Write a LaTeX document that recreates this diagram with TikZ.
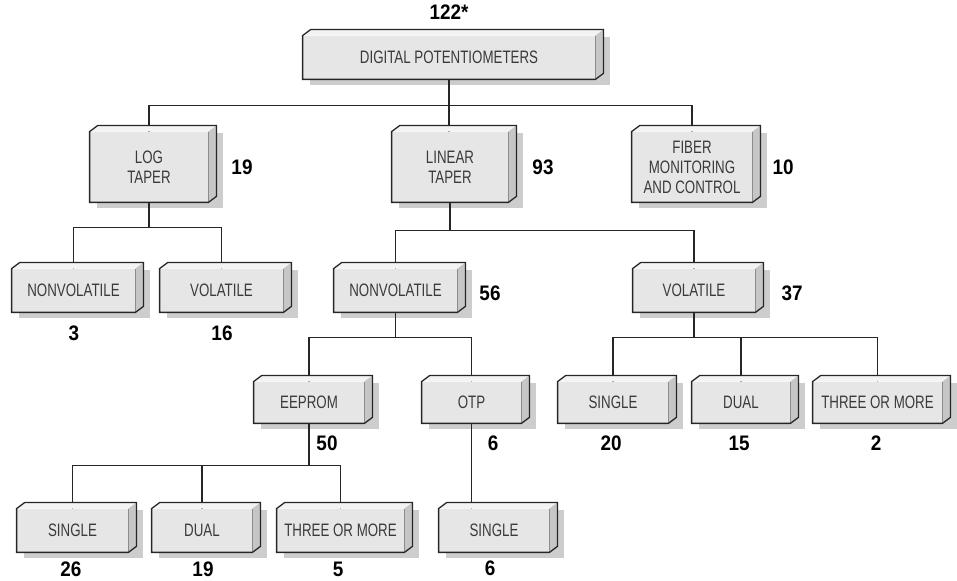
\documentclass[tikz,border=0pt]{standalone}
\usepackage{fontspec}
\setmainfont{Liberation Sans}[FakeStretch=0.74]
\newfontfamily\numfont{Liberation Sans}[FakeStretch=0.9]
\pgfdeclarelayer{background}
\pgfsetlayers{background,main}

\definecolor{frontgray}{HTML}{E6E6E6}
\definecolor{topgray}{HTML}{F3F3F3}
\definecolor{sidegray}{HTML}{C6C6C6}
\definecolor{shadowgray}{HTML}{CDCDCD}
\definecolor{labeltext}{HTML}{3A3A3A}

\tikzset{
    dpbox/.style 2 args={inner sep=0pt, minimum width=#1*0.5pt, minimum height=#2*0.5pt,
        align=center, text=labeltext, font=\fontsize{9}{10}\selectfont},
    num/.style={inner sep=0pt, font=\numfont\bfseries\fontsize{10.5}{12}\selectfont},
    conn/.style={line width=0.6pt, black!85},
    boxline/.style={line width=0.65pt, black!85, line join=miter}
}

\begin{document}
\begin{tikzpicture}[x=0.5pt, y=-0.5pt]

        \useasboundingbox (0,0) rectangle (957,581);

        % boxes (front faces)
        \node[dpbox={292}{43}] (dp) at (449,57.5) {DIGITAL POTENTIOMETERS};

        \node[dpbox={118}{70}] (logt) at (149,167) {LOG\\TAPER};
        \node[dpbox={116}{70}] (lint) at (450,167) {LINEAR\\TAPER};
        \node[dpbox={120}{70}] (fiber) at (692,167) {FIBER\\MONITORING\\AND CONTROL};

        \node[dpbox={123}{43}] (lognv) at (73.5,290.5) {NONVOLATILE};
        \node[dpbox={123}{43}] (logvo) at (221.5,290.5) {VOLATILE};
        \node[dpbox={123}{43}] (linnv) at (395.5,290.5) {NONVOLATILE};
        \node[dpbox={122}{43}] (linvo) at (694,290.5) {VOLATILE};

        \node[dpbox={110}{41}] (eeprom) at (309,402.5) {EEPROM};
        \node[dpbox={99}{41}] (otp) at (471.5,402.5) {OTP};
        \node[dpbox={110}{41}] (vsingle) at (613,402.5) {SINGLE};
        \node[dpbox={98}{41}] (vdual) at (741,402.5) {DUAL};
        \node[dpbox={129}{41}] (vthree) at (877.5,402.5) {THREE OR MORE};

        \node[dpbox={111}{43}] (esingle) at (72.5,530.5) {SINGLE};
        \node[dpbox={100}{43}] (edual) at (202,530.5) {DUAL};
        \node[dpbox={127}{43}] (ethree) at (340.5,530.5) {THREE OR MORE};
        \node[dpbox={110}{43}] (osingle) at (494,530.5) {SINGLE};

        % counts
        \node[num] (dpnum) at (449,12) {122*};
        \node[num] (logtnum) at (242,167) {19};
        \node[num] (lintnum) at (543,167) {93};
        \node[num] (fibernum) at (783,167) {10};
        \node[num] (lognvnum) at (74,333) {3};
        \node[num] (logvonum) at (222,333) {16};
        \node[num] (linnvnum) at (490,293) {56};
        \node[num] (linvonum) at (792,293) {37};
        \node[num] (eepromnum) at (327,443) {50};
        \node[num] (otpnum) at (493,443) {6};
        \node[num] (vsinglenum) at (611,443) {20};
        \node[num] (vdualnum) at (739,443) {15};
        \node[num] (vthreenum) at (876,443) {2};
        \node[num] (esinglenum) at (71,569) {26};
        \node[num] (edualnum) at (203,569) {19};
        \node[num] (ethreenum) at (338,569) {5};
        \node[num] (osinglenum) at (490,568) {6};

        \begin{pgfonlayer}{background}
        % shadows
        \foreach \nm in {dp,logt,lint,fiber,lognv,logvo,linnv,linvo,eeprom,otp,vsingle,vdual,vthree,esingle,edual,ethree,osingle}
            \fill[shadowgray] ([shift={(7,1)}]\nm.north west) rectangle ([shift={(15,6)}]\nm.south east);

        % connectors
        \draw[conn] (dp.south) -- ++(0,26) -| (logt.north);
        \draw[conn] (dp.south) -- ++(0,26) -| (fiber.north);
        \draw[conn] (dp.south) -- (dp.south |- lint.north);
        \draw[conn] (logt.south) -- ++(0,25) -| (lognv.north);
        \draw[conn] (logt.south) -- ++(0,25) -| (logvo.north);
        \draw[conn] (lint.south) -- ++(0,28) -| (linnv.north);
        \draw[conn] (lint.south) -- ++(0,28) -| (linvo.north);
        \draw[conn] (linnv.south) -- ++(0,25) -| (eeprom.north);
        \draw[conn] (linnv.south) -- ++(0,25) -| (otp.north);
        \draw[conn] (linvo.south) -- ++(0,25) -| (vsingle.north);
        \draw[conn] (linvo.south) -- ++(0,25) -| (vdual.north);
        \draw[conn] (linvo.south) -- ++(0,25) -| (vthree.north);
        \draw[conn] (eeprom.south) -- ++(0,42) -| (esingle.north);
        \draw[conn] (eeprom.south) -- ++(0,42) -| (edual.north);
        \draw[conn] (eeprom.south) -- ++(0,42) -| (ethree.north);
        \draw[conn] (otp.south) -- (otp.south |- osingle.north);

        % bevelled boxes
        \foreach \nm in {dp,logt,lint,fiber,lognv,logvo,linnv,linvo,eeprom,otp,vsingle,vdual,vthree,esingle,edual,ethree,osingle} {
            \fill[frontgray] (\nm.north west) rectangle (\nm.south east);
            \fill[topgray] (\nm.north west) -- ++(8,-6) -- ([shift={(8,-6)}]\nm.north east) -- (\nm.north east) -- cycle;
            \fill[sidegray] (\nm.north east) -- ++(8,-6) -- ([shift={(8,-6)}]\nm.south east) -- (\nm.south east) -- cycle;
            \draw[black!45, line width=0.3pt] (\nm.north east) -- (\nm.south east);
            \draw[boxline] (\nm.south west) -- (\nm.north west) -- ++(8,-6) -- ([shift={(8,-6)}]\nm.north east)
                -- ([shift={(8,-6)}]\nm.south east) -- (\nm.south east) -- cycle;
        }
        \end{pgfonlayer}

    \end{tikzpicture}
\end{document}
